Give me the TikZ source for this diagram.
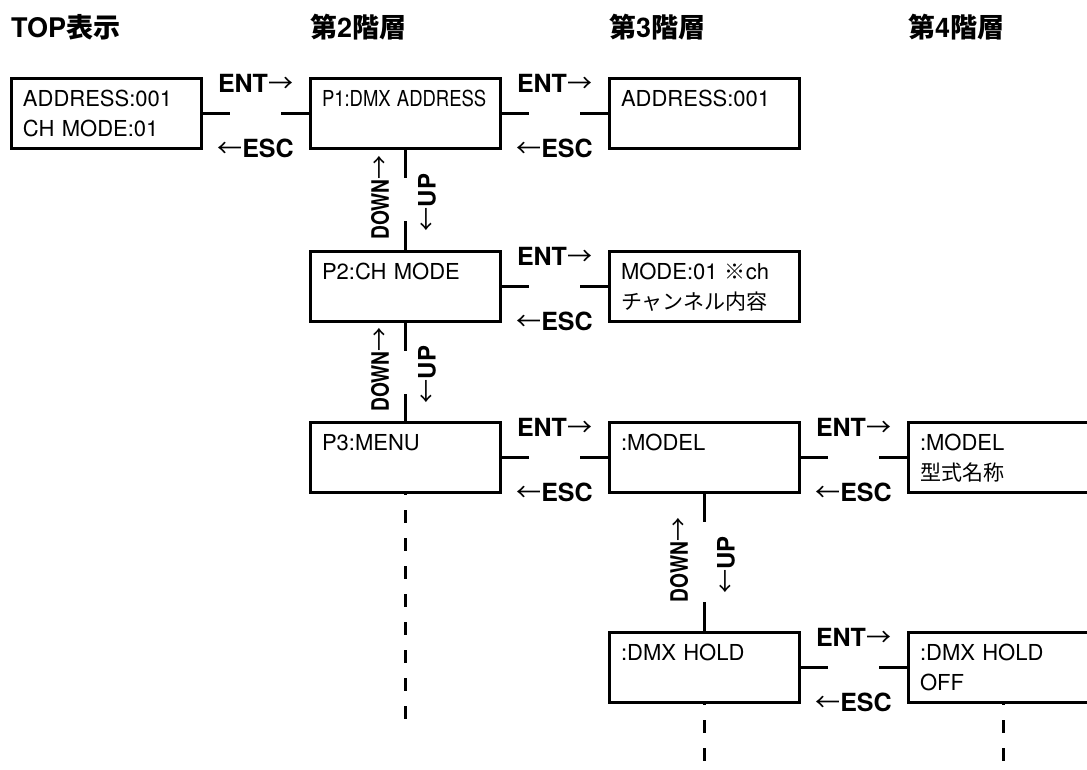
\documentclass[tikz,border=0pt]{standalone}
\usepackage{fontspec}
\usepackage{graphicx}
\setmainfont{TeX Gyre Heros}
\newfontfamily\jp{Noto Sans CJK JP}
\usetikzlibrary{positioning}
\newcommand\ja[1]{{\jp\fontsize{21pt}{30pt}\selectfont #1}}

\begin{document}
\begin{tikzpicture}[
  x=1pt, y=1pt,
  font=\fontsize{22pt}{30pt}\selectfont,
  panel/.style={draw, line width=3pt, outer sep=0pt, text width=166pt,
    inner xsep=12pt, inner ysep=12pt, text height=16pt, text depth=30pt, align=left},
  head/.style={anchor=base west, inner sep=0pt, font=\fontsize{27pt}{30pt}\selectfont\bfseries},
  hlink/.style={line width=3pt, dash pattern=on 29pt off 51pt on 29pt},
  vlink/.style={line width=3pt, dash pattern=on 30pt off #1 on 30pt},
  vlink/.default=43pt,
  tail/.style={line width=3pt, dash pattern=on 13pt off 15pt, dash phase=10pt},
  entlbl/.style={anchor=base, yshift=21pt, font=\fontsize{25pt}{30pt}\selectfont},
  esclbl/.style={anchor=base, yshift=-44pt, font=\fontsize{25pt}{30pt}\selectfont},
  dnlbl/.style={xshift=-25pt, yshift=2pt, rotate=90, font=\fontsize{24pt}{30pt}\selectfont},
  uplbl/.style={xshift=22pt, yshift=-3pt, rotate=90, font=\fontsize{24pt}{30pt}\selectfont},
]
\useasboundingbox (0,0) rectangle (1087,-769);
\clip (0,0) rectangle (1087,-769);

\node[panel] (top) at (106,-113) {ADDRESS:001\\CH MODE:01};
\node[panel, right=109pt of top] (p1) {\scalebox{0.84}[1]{P1:DMX ADDRESS}};
\node[panel, right=109pt of p1] (addr) {ADDRESS:001};
\node[panel, below=103pt of p1] (p2) {P2:CH MODE};
\node[panel, right=109pt of p2] (mode) {MODE:01 \ja{※}ch\\\ja{チャンネル内容}};
\node[panel, below=101pt of p2] (p3) {P3:MENU};
\node[panel, right=109pt of p3] (model) {:MODEL};
\node[panel, right=109pt of model] (model4) {:MODEL\\\ja{型式名称}};
\node[panel, below=140pt of model] (hold) {:DMX HOLD};
\node[panel, right=109pt of hold] (hold4) {:DMX HOLD\\OFF};

\coordinate (hb) at (0,-37);
\node[head] (h1) at (top.west |- hb) {TOP{\jp 表示}};
\node[head] (h2) at (p1.west |- hb) {{\jp 第}2{\jp 階層}};
\node[head] (h3) at (addr.west |- hb) {{\jp 第}3{\jp 階層}};
\node[head] (h4) at (model4.west |- hb) {{\jp 第}4{\jp 階層}};

\draw[hlink] (top) -- node[entlbl] (e1) {\textbf{ENT}{\jp →}} node[esclbl] (s1) {{\jp ←}\textbf{ESC}} (p1);
\draw[hlink] (p1) -- node[entlbl] (e2) {\textbf{ENT}{\jp →}} node[esclbl] (s2) {{\jp ←}\textbf{ESC}} (addr);
\draw[hlink] (p2) -- node[entlbl] (e3) {\textbf{ENT}{\jp →}} node[esclbl] (s3) {{\jp ←}\textbf{ESC}} (mode);
\draw[hlink] (p3) -- node[entlbl] (e4) {\textbf{ENT}{\jp →}} node[esclbl] (s4) {{\jp ←}\textbf{ESC}} (model);
\draw[hlink] (model) -- node[entlbl] (e5) {\textbf{ENT}{\jp →}} node[esclbl] (s5) {{\jp ←}\textbf{ESC}} (model4);
\draw[hlink] (hold) -- node[entlbl] (e6) {\textbf{ENT}{\jp →}} node[esclbl] (s6) {{\jp ←}\textbf{ESC}} (hold4);

\draw[vlink] (p1) -- node[dnlbl] (d1) {\scalebox{0.8}[1]{\textbf{DOWN}}{\jp →}} node[uplbl] (u1) {{\jp ←}\textbf{UP}} (p2);
\draw[vlink] (p2) -- node[dnlbl] (d2) {\scalebox{0.8}[1]{\textbf{DOWN}}{\jp →}} node[uplbl] (u2) {{\jp ←}\textbf{UP}} (p3);
\draw[vlink=80pt] (model) -- node[dnlbl] (d3) {\scalebox{0.8}[1]{\textbf{DOWN}}{\jp →}} node[uplbl] (u3) {{\jp ←}\textbf{UP}} (hold);

\path (p3.south) ++(0,-228) coordinate (p3e);
\path (hold.south) ++(0,-80) coordinate (holde);
\path (hold4.south) ++(0,-80) coordinate (hold4e);
\draw[tail] (p3) -- (p3e);
\draw[tail] (hold) -- (holde);
\draw[tail] (hold4) -- (hold4e);
\end{tikzpicture}
\end{document}
